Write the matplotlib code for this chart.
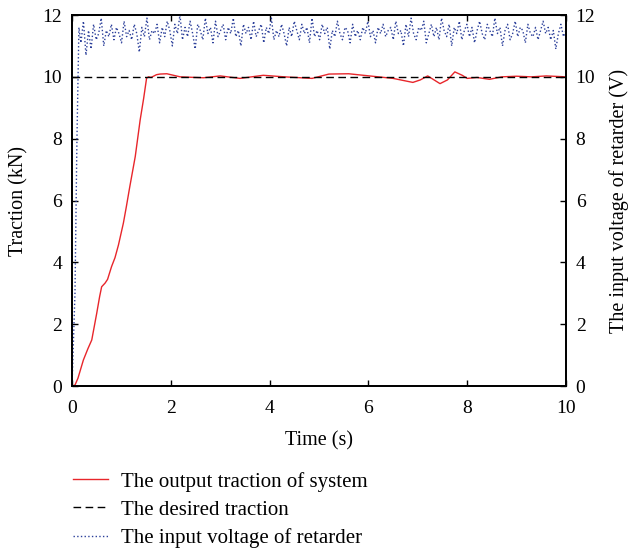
import numpy as np
import matplotlib.pyplot as plt

plt.rcParams['font.family'] = ['Liberation Serif', 'DejaVu Serif']

# traction of the system (s, kN)
t_out = [0.0, 0.06, 0.12, 0.23, 0.32, 0.40, 0.50, 0.56, 0.60, 0.67, 0.72, 0.80,
         0.87, 0.94, 1.04, 1.10, 1.17, 1.28, 1.38, 1.45, 1.51, 1.55, 1.60, 1.71,
         1.78, 1.92, 2.19, 2.66, 3.0, 3.4, 3.87, 4.3, 4.86, 5.2, 5.6, 5.9, 6.2,
         6.5, 6.9, 7.05, 7.2, 7.45, 7.6, 7.75, 7.9, 8.0, 8.2, 8.45, 8.7, 9.0,
         9.3, 9.6, 10.0]
f_out = [0.0, 0.03, 0.25, 0.84, 1.2, 1.49, 2.35, 2.9, 3.21, 3.33, 3.45, 3.86,
         4.15, 4.56, 5.27, 5.8, 6.45, 7.42, 8.61, 9.3, 9.96, 10.0, 9.98, 10.07,
         10.09, 10.1, 10.0, 9.97, 10.03, 9.95, 10.05, 10.0, 9.95, 10.09, 10.1, 10.05, 10.0,
         9.95, 9.82, 9.9, 10.03, 9.78, 9.9, 10.16, 10.05, 9.95, 9.98, 9.92, 10.0, 10.02,
         10.0, 10.03, 10.0]

# desired traction
t_des = [0.0, 10.0]
f_des = [10.0, 10.0]

# input voltage of retarder (V)
t_v_start = [0.0, 0.06, 0.1, 0.14]
v_start = [0.0, 3.0, 8.0, 11.6]
v_noise = [11.1, 11.8, 10.7, 11.5, 10.9, 11.7, 11.2, 11.4, 11.9, 11.0, 11.5, 11.3,
           11.7, 11.2, 11.6, 11.4, 11.1, 11.8, 11.3, 11.5, 11.2, 11.7, 11.4, 10.8,
           11.6, 11.3, 11.9, 11.2, 11.5, 11.4, 11.7, 11.1, 11.6, 11.3, 11.8, 11.5,
           11.0, 11.7, 11.4, 12.0, 11.2, 11.6, 11.3, 11.8, 11.4, 10.9, 11.7, 11.5,
           11.2, 11.9, 11.4, 11.6, 11.1, 11.8, 11.3, 11.5, 11.7, 11.2, 11.6, 11.4,
           11.9, 11.3, 11.5, 11.0, 11.7, 11.4, 11.6, 11.2, 11.8, 11.3, 11.5, 11.7,
           11.1, 11.6, 11.4, 11.9, 11.2, 11.5, 11.3, 11.7, 11.4, 11.0, 11.6, 11.3,
           11.8, 11.5, 11.2, 11.7, 11.4, 11.6, 11.1, 11.9, 11.3, 11.5, 11.2, 11.7,
           11.4, 11.6, 10.9, 11.5, 11.3, 11.8, 11.4, 11.2, 11.6, 11.5, 11.1, 11.7,
           11.3, 11.5, 11.2, 11.6, 11.4, 11.8, 11.3, 11.5, 11.1, 11.6, 11.4, 11.7,
           11.3, 11.5, 11.6, 11.2, 11.8, 11.4, 11.5, 11.0, 11.7, 11.3, 11.9, 11.4,
           11.2, 11.6, 11.5, 11.8, 11.1, 11.4, 11.7, 11.3, 11.6, 11.2, 11.9, 11.5,
           11.3, 11.7, 11.0, 11.6, 11.4, 11.8, 11.2, 11.5, 11.7, 11.3, 11.6, 11.1,
           11.5, 11.8, 11.4, 11.2, 11.7, 11.5, 11.3, 11.9, 11.4, 11.6, 11.0, 11.5,
           11.7, 11.2, 11.4, 11.8, 11.3, 11.6, 11.5, 11.1, 11.7, 11.4, 11.3, 11.6,
           11.2, 11.5, 11.8, 11.4, 11.6, 11.2, 11.5, 10.9, 11.4, 11.7, 11.3, 11.5]
t_v = t_v_start + list(np.linspace(0.18, 10.0, len(v_noise)))
v_in = v_start + v_noise

fig = plt.figure(figsize=(6.3, 5.48), dpi=100)
ax = fig.add_axes([0.1143, 0.2956, 0.7841, 0.677])
ax2 = ax.twinx()

l1, = ax.plot(t_out, f_out, color='#e8262b', lw=1.0)
l2, = ax.plot(t_des, f_des, color='black', lw=1.0, dashes=(5.5, 3.2))
l3, = ax2.plot(t_v, v_in, color='#2b3f9a', lw=1.0, ls=':')

for a in (ax, ax2):
    a.set_xlim(0, 10)
    a.set_ylim(0, 12)
    a.set_yticks([0, 2, 4, 6, 8, 10, 12])
    a.tick_params(direction='in', labelsize=14, length=4, width=1, top=True, pad=7)
ax.set_xticks([0, 2, 4, 6, 8, 10])
ax.tick_params(axis='x', pad=10)
ax.set_xlabel('Time (s)', fontsize=14.5, labelpad=10)
ax.set_ylabel('Traction (kN)', fontsize=14.5, labelpad=10)
ax2.set_ylabel('The input voltage of retarder (V)', fontsize=14.5, labelpad=10)
for a in (ax, ax2):
    for s in a.spines.values():
        s.set_linewidth(1.3)

fig.legend([l1, l2, l3],
           ['The output traction of system', 'The desired traction',
            'The input voltage of retarder'],
           loc='upper left', bbox_to_anchor=(0.116, 0.139), frameon=False,
           fontsize=15, handlelength=1.7, handletextpad=0.62, labelspacing=0.4,
           borderaxespad=0, borderpad=0)

fig.savefig('out.png', dpi=100)
